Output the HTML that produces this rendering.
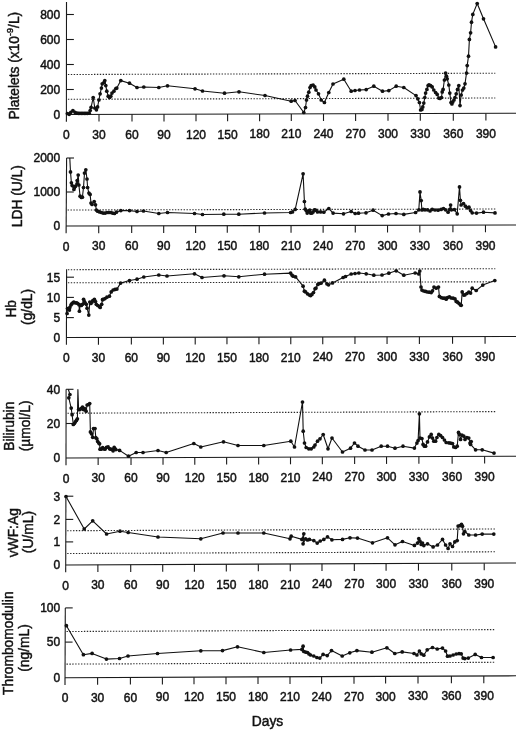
<!DOCTYPE html><html><head><meta charset="utf-8"><style>html,body{margin:0;padding:0;background:#fff;overflow:hidden}svg{display:block}</style></head><body><svg width="520" height="731" viewBox="0 0 520 731">
<rect width="520" height="731" fill="#fff"/>
<g>
<g stroke="#1a1a1a" stroke-width="1.1" fill="none"><path d="M66.50 2.00L66.40 121.70" /><path d="M66.40 114.50L516.00 113.30" /><path d="M99.00 114.41V121.61" /><path d="M132.00 114.32V121.52" /><path d="M164.00 114.24V121.44" /><path d="M196.00 114.15V121.35" /><path d="M227.60 114.07V121.27" /><path d="M259.60 113.98V121.18" /><path d="M291.30 113.90V121.10" /><path d="M323.50 113.81V121.01" /><path d="M355.60 113.73V120.93" /><path d="M388.00 113.64V120.84" /><path d="M420.30 113.56V120.76" /><path d="M453.30 113.47V120.67" /><path d="M485.90 113.38V120.58" /><path d="M66.49 14.50H73.89" /><path d="M66.47 39.50H73.87" /><path d="M66.44 64.50H73.84" /><path d="M66.42 89.50H73.82" /></g>
<g stroke="#2a2a2a" stroke-width="1.1" stroke-dasharray="1.4 1.5" fill="none"><path d="M67.90 74.50L495.30 73.20" /><path d="M67.90 99.30L495.30 98.00" /></g>
<g font-family='"Liberation Sans", Arial, Helvetica, sans-serif' font-size="12" fill="#111" stroke="#111" stroke-width="0.45"><text x="66.40" y="139.00" text-anchor="middle">0</text><text x="99.00" y="138.91" text-anchor="middle">30</text><text x="132.00" y="138.82" text-anchor="middle">60</text><text x="164.00" y="138.74" text-anchor="middle">90</text><text x="196.00" y="138.65" text-anchor="middle">120</text><text x="227.60" y="138.57" text-anchor="middle">150</text><text x="259.60" y="138.48" text-anchor="middle">180</text><text x="291.30" y="138.40" text-anchor="middle">210</text><text x="323.50" y="138.31" text-anchor="middle">240</text><text x="355.60" y="138.23" text-anchor="middle">270</text><text x="388.00" y="138.14" text-anchor="middle">300</text><text x="420.30" y="138.06" text-anchor="middle">330</text><text x="453.30" y="137.97" text-anchor="middle">360</text><text x="485.90" y="137.88" text-anchor="middle">390</text><text x="60.2" y="18.80" text-anchor="end">800</text><text x="60.2" y="43.80" text-anchor="end">600</text><text x="60.2" y="68.80" text-anchor="end">400</text><text x="60.2" y="93.80" text-anchor="end">200</text><text x="60.2" y="118.80" text-anchor="end">0</text></g>
<g font-family='"Liberation Sans", Arial, Helvetica, sans-serif' font-size="13.8" fill="#111" stroke="#111" stroke-width="0.45"><text transform="translate(18.80 65.70) rotate(-90)" text-anchor="middle">Platelets (x10<tspan dy="-5.5" font-size="9">-9</tspan><tspan dy="5.5">/L)</tspan></text></g>
<polyline fill="none" stroke="#111" stroke-width="1.1" stroke-linejoin="round" points="67.4,113.5 69.2,114.3 70.8,112.3 72.9,110.5 75.0,112.3 76.9,113.2 78.4,113.3 79.9,113.3 81.4,113.3 82.9,113.3 84.4,113.3 85.9,113.3 87.4,113.3 89.2,113.2 90.2,110.5 91.1,107.4 93.2,97.5 94.8,108.0 96.4,109.8 97.6,106.9 98.9,100.0 100.1,93.8 101.4,88.1 102.2,83.8 103.9,82.5 104.8,80.6 105.8,85.6 106.8,91.2 108.2,96.2 109.5,97.5 110.8,96.2 112.0,93.1 113.9,91.2 115.8,88.5 116.8,88.1 120.8,80.6 129.5,83.2 137.0,87.5 143.8,87.0 158.8,87.5 167.5,85.8 195.0,88.8 202.5,91.0 224.5,93.2 239.0,91.8 265.0,95.5 291.2,101.2 295.0,100.5 303.8,112.5 305.5,107.5 306.5,100.0 307.5,96.2 308.8,92.2 310.0,87.5 311.2,85.6 313.1,85.0 314.8,86.9 316.0,90.0 318.5,93.8 321.2,100.0 324.4,102.5 328.8,92.5 333.0,84.0 343.8,79.2 351.2,91.2 355.0,90.5 359.5,90.0 366.2,89.6 373.8,86.2 382.5,91.2 388.8,90.6 396.2,86.2 403.8,87.5 416.0,95.6 417.8,98.8 419.4,102.5 420.6,110.0 421.9,109.4 422.8,106.9 423.8,103.1 424.8,97.5 425.6,93.1 426.9,89.4 428.1,85.6 429.0,84.8 430.6,85.6 432.2,86.9 433.8,90.0 435.6,92.5 437.2,94.4 438.8,98.1 440.0,98.5 441.5,97.5 442.2,91.9 443.1,89.4 444.4,80.0 445.6,73.1 446.5,76.2 447.2,78.8 448.8,85.0 449.8,93.1 451.0,102.5 451.9,104.0 452.8,101.9 454.0,100.0 455.0,97.5 456.2,93.8 457.5,89.4 458.8,85.6 460.0,105.6 461.2,95.0 462.5,90.0 463.8,88.1 465.0,83.8 466.5,73.1 467.2,65.6 468.5,56.2 469.4,39.4 470.6,32.8 471.5,22.2 472.8,14.4 477.2,3.5 483.5,18.8 495.6,46.9"/>
<g fill="#111"><circle cx="67.4" cy="113.5" r="1.85"/><circle cx="69.2" cy="114.3" r="1.85"/><circle cx="70.8" cy="112.3" r="1.85"/><circle cx="72.9" cy="110.5" r="1.85"/><circle cx="75.0" cy="112.3" r="1.85"/><circle cx="76.9" cy="113.2" r="1.85"/><circle cx="78.4" cy="113.3" r="1.85"/><circle cx="79.9" cy="113.3" r="1.85"/><circle cx="81.4" cy="113.3" r="1.85"/><circle cx="82.9" cy="113.3" r="1.85"/><circle cx="84.4" cy="113.3" r="1.85"/><circle cx="85.9" cy="113.3" r="1.85"/><circle cx="87.4" cy="113.3" r="1.85"/><circle cx="89.2" cy="113.2" r="1.85"/><circle cx="90.2" cy="110.5" r="1.85"/><circle cx="91.1" cy="107.4" r="1.85"/><circle cx="93.2" cy="97.5" r="1.85"/><circle cx="94.8" cy="108.0" r="1.85"/><circle cx="96.4" cy="109.8" r="1.85"/><circle cx="97.6" cy="106.9" r="1.85"/><circle cx="98.9" cy="100.0" r="1.85"/><circle cx="100.1" cy="93.8" r="1.85"/><circle cx="101.4" cy="88.1" r="1.85"/><circle cx="102.2" cy="83.8" r="1.85"/><circle cx="103.9" cy="82.5" r="1.85"/><circle cx="104.8" cy="80.6" r="1.85"/><circle cx="105.8" cy="85.6" r="1.85"/><circle cx="106.8" cy="91.2" r="1.85"/><circle cx="108.2" cy="96.2" r="1.85"/><circle cx="109.5" cy="97.5" r="1.85"/><circle cx="110.8" cy="96.2" r="1.85"/><circle cx="112.0" cy="93.1" r="1.85"/><circle cx="113.9" cy="91.2" r="1.85"/><circle cx="115.8" cy="88.5" r="1.85"/><circle cx="116.8" cy="88.1" r="1.85"/><circle cx="120.8" cy="80.6" r="1.85"/><circle cx="129.5" cy="83.2" r="1.85"/><circle cx="137.0" cy="87.5" r="1.85"/><circle cx="143.8" cy="87.0" r="1.85"/><circle cx="158.8" cy="87.5" r="1.85"/><circle cx="167.5" cy="85.8" r="1.85"/><circle cx="195.0" cy="88.8" r="1.85"/><circle cx="202.5" cy="91.0" r="1.85"/><circle cx="224.5" cy="93.2" r="1.85"/><circle cx="239.0" cy="91.8" r="1.85"/><circle cx="265.0" cy="95.5" r="1.85"/><circle cx="291.2" cy="101.2" r="1.85"/><circle cx="295.0" cy="100.5" r="1.85"/><circle cx="303.8" cy="112.5" r="1.85"/><circle cx="305.5" cy="107.5" r="1.85"/><circle cx="306.5" cy="100.0" r="1.85"/><circle cx="307.5" cy="96.2" r="1.85"/><circle cx="308.8" cy="92.2" r="1.85"/><circle cx="310.0" cy="87.5" r="1.85"/><circle cx="311.2" cy="85.6" r="1.85"/><circle cx="313.1" cy="85.0" r="1.85"/><circle cx="314.8" cy="86.9" r="1.85"/><circle cx="316.0" cy="90.0" r="1.85"/><circle cx="318.5" cy="93.8" r="1.85"/><circle cx="321.2" cy="100.0" r="1.85"/><circle cx="324.4" cy="102.5" r="1.85"/><circle cx="328.8" cy="92.5" r="1.85"/><circle cx="333.0" cy="84.0" r="1.85"/><circle cx="343.8" cy="79.2" r="1.85"/><circle cx="351.2" cy="91.2" r="1.85"/><circle cx="355.0" cy="90.5" r="1.85"/><circle cx="359.5" cy="90.0" r="1.85"/><circle cx="366.2" cy="89.6" r="1.85"/><circle cx="373.8" cy="86.2" r="1.85"/><circle cx="382.5" cy="91.2" r="1.85"/><circle cx="388.8" cy="90.6" r="1.85"/><circle cx="396.2" cy="86.2" r="1.85"/><circle cx="403.8" cy="87.5" r="1.85"/><circle cx="416.0" cy="95.6" r="1.85"/><circle cx="417.8" cy="98.8" r="1.85"/><circle cx="419.4" cy="102.5" r="1.85"/><circle cx="420.6" cy="110.0" r="1.85"/><circle cx="421.9" cy="109.4" r="1.85"/><circle cx="422.8" cy="106.9" r="1.85"/><circle cx="423.8" cy="103.1" r="1.85"/><circle cx="424.8" cy="97.5" r="1.85"/><circle cx="425.6" cy="93.1" r="1.85"/><circle cx="426.9" cy="89.4" r="1.85"/><circle cx="428.1" cy="85.6" r="1.85"/><circle cx="429.0" cy="84.8" r="1.85"/><circle cx="430.6" cy="85.6" r="1.85"/><circle cx="432.2" cy="86.9" r="1.85"/><circle cx="433.8" cy="90.0" r="1.85"/><circle cx="435.6" cy="92.5" r="1.85"/><circle cx="437.2" cy="94.4" r="1.85"/><circle cx="438.8" cy="98.1" r="1.85"/><circle cx="440.0" cy="98.5" r="1.85"/><circle cx="441.5" cy="97.5" r="1.85"/><circle cx="442.2" cy="91.9" r="1.85"/><circle cx="443.1" cy="89.4" r="1.85"/><circle cx="444.4" cy="80.0" r="1.85"/><circle cx="445.6" cy="73.1" r="1.85"/><circle cx="446.5" cy="76.2" r="1.85"/><circle cx="447.2" cy="78.8" r="1.85"/><circle cx="448.8" cy="85.0" r="1.85"/><circle cx="449.8" cy="93.1" r="1.85"/><circle cx="451.0" cy="102.5" r="1.85"/><circle cx="451.9" cy="104.0" r="1.85"/><circle cx="452.8" cy="101.9" r="1.85"/><circle cx="454.0" cy="100.0" r="1.85"/><circle cx="455.0" cy="97.5" r="1.85"/><circle cx="456.2" cy="93.8" r="1.85"/><circle cx="457.5" cy="89.4" r="1.85"/><circle cx="458.8" cy="85.6" r="1.85"/><circle cx="460.0" cy="105.6" r="1.85"/><circle cx="461.2" cy="95.0" r="1.85"/><circle cx="462.5" cy="90.0" r="1.85"/><circle cx="463.8" cy="88.1" r="1.85"/><circle cx="465.0" cy="83.8" r="1.85"/><circle cx="466.5" cy="73.1" r="1.85"/><circle cx="467.2" cy="65.6" r="1.85"/><circle cx="468.5" cy="56.2" r="1.85"/><circle cx="469.4" cy="39.4" r="1.85"/><circle cx="470.6" cy="32.8" r="1.85"/><circle cx="471.5" cy="22.2" r="1.85"/><circle cx="472.8" cy="14.4" r="1.85"/><circle cx="477.2" cy="3.5" r="1.85"/><circle cx="483.5" cy="18.8" r="1.85"/><circle cx="495.6" cy="46.9" r="1.85"/></g>
<g stroke="#1a1a1a" stroke-width="1.1" fill="none"><path d="M66.60 158.00L66.10 233.20" /><path d="M66.10 226.00L516.00 225.00" /><path d="M98.72 225.93V233.13" /><path d="M131.68 225.85V233.05" /><path d="M163.68 225.78V232.98" /><path d="M195.60 225.71V232.91" /><path d="M227.28 225.64V232.84" /><path d="M259.28 225.57V232.77" /><path d="M291.04 225.50V232.70" /><path d="M323.12 225.43V232.63" /><path d="M355.28 225.36V232.56" /><path d="M387.52 225.29V232.49" /><path d="M419.84 225.21V232.41" /><path d="M452.92 225.14V232.34" /><path d="M485.48 225.07V232.27" /><path d="M66.60 158.00H74.00" /><path d="M66.35 192.00H73.75" /></g>
<g stroke="#2a2a2a" stroke-width="1.1" stroke-dasharray="1.4 1.5" fill="none"><path d="M67.60 210.00L495.30 209.00" /></g>
<g font-family='"Liberation Sans", Arial, Helvetica, sans-serif' font-size="12" fill="#111" stroke="#111" stroke-width="0.45"><text x="66.10" y="250.50" text-anchor="middle">0</text><text x="98.72" y="250.43" text-anchor="middle">30</text><text x="131.68" y="250.35" text-anchor="middle">60</text><text x="163.68" y="250.28" text-anchor="middle">90</text><text x="195.60" y="250.21" text-anchor="middle">120</text><text x="227.28" y="250.14" text-anchor="middle">150</text><text x="259.28" y="250.07" text-anchor="middle">180</text><text x="291.04" y="250.00" text-anchor="middle">210</text><text x="323.12" y="249.93" text-anchor="middle">240</text><text x="355.28" y="249.86" text-anchor="middle">270</text><text x="387.52" y="249.79" text-anchor="middle">300</text><text x="419.84" y="249.71" text-anchor="middle">330</text><text x="452.92" y="249.64" text-anchor="middle">360</text><text x="485.48" y="249.57" text-anchor="middle">390</text><text x="60.2" y="162.30" text-anchor="end">2000</text><text x="60.2" y="196.30" text-anchor="end">1000</text><text x="60.2" y="230.30" text-anchor="end">0</text></g>
<g font-family='"Liberation Sans", Arial, Helvetica, sans-serif' font-size="13.8" fill="#111" stroke="#111" stroke-width="0.45"><text transform="translate(22.30 196.20) rotate(-90)" text-anchor="middle">LDH (U/L)</text></g>
<polyline fill="none" stroke="#111" stroke-width="1.1" stroke-linejoin="round" points="69.8,158.0 70.5,171.9 71.4,182.8 72.2,185.6 73.9,189.4 74.5,187.5 75.5,186.2 77.0,183.8 77.2,180.6 78.2,175.0 78.9,185.0 80.1,196.2 81.4,197.5 82.4,197.2 83.5,187.5 84.5,173.1 85.8,169.8 87.0,179.0 87.6,187.5 88.9,193.1 90.1,194.4 91.0,203.1 92.0,204.4 94.2,201.5 95.5,204.8 96.4,210.0 97.6,211.2 99.5,211.9 101.4,212.5 103.2,213.1 105.1,213.1 107.0,212.5 108.9,212.5 110.8,212.5 112.6,213.1 114.5,213.5 116.4,212.2 120.8,210.6 129.5,210.6 137.0,211.5 143.5,211.0 158.8,213.5 167.5,212.5 194.5,213.5 202.5,214.5 223.8,214.2 238.8,214.2 264.5,213.0 290.6,212.5 292.5,211.9 295.2,209.4 303.1,173.8 304.4,201.5 305.2,209.0 306.2,210.6 307.2,213.1 308.5,211.2 309.8,210.0 310.6,213.1 311.9,213.1 313.1,211.9 314.4,209.8 315.6,210.2 317.5,211.9 320.6,211.9 323.8,212.2 328.8,208.5 333.1,213.1 343.5,213.8 351.2,211.5 355.2,213.5 358.5,213.2 366.0,212.8 373.1,210.2 382.2,215.6 388.5,214.0 396.0,213.5 403.8,214.4 415.6,212.5 418.8,209.8 420.0,191.9 421.2,200.6 421.9,210.0 423.1,209.4 425.0,209.8 427.5,209.8 430.0,211.0 432.2,209.4 435.0,210.0 438.1,210.2 441.2,209.4 443.5,208.5 445.6,209.8 448.1,212.2 449.8,209.4 450.6,205.0 451.5,209.8 454.4,209.6 457.2,213.8 459.5,186.9 460.4,200.3 461.1,205.0 463.5,203.6 465.4,206.2 467.2,207.8 469.0,207.2 470.6,210.6 472.2,212.8 476.5,213.1 483.5,212.2 495.0,212.9"/>
<g fill="#111"><circle cx="70.5" cy="171.9" r="1.85"/><circle cx="71.4" cy="182.8" r="1.85"/><circle cx="72.2" cy="185.6" r="1.85"/><circle cx="73.9" cy="189.4" r="1.85"/><circle cx="74.5" cy="187.5" r="1.85"/><circle cx="75.5" cy="186.2" r="1.85"/><circle cx="77.0" cy="183.8" r="1.85"/><circle cx="77.2" cy="180.6" r="1.85"/><circle cx="78.2" cy="175.0" r="1.85"/><circle cx="78.9" cy="185.0" r="1.85"/><circle cx="80.1" cy="196.2" r="1.85"/><circle cx="81.4" cy="197.5" r="1.85"/><circle cx="82.4" cy="197.2" r="1.85"/><circle cx="83.5" cy="187.5" r="1.85"/><circle cx="84.5" cy="173.1" r="1.85"/><circle cx="85.8" cy="169.8" r="1.85"/><circle cx="87.0" cy="179.0" r="1.85"/><circle cx="87.6" cy="187.5" r="1.85"/><circle cx="88.9" cy="193.1" r="1.85"/><circle cx="90.1" cy="194.4" r="1.85"/><circle cx="91.0" cy="203.1" r="1.85"/><circle cx="92.0" cy="204.4" r="1.85"/><circle cx="94.2" cy="201.5" r="1.85"/><circle cx="95.5" cy="204.8" r="1.85"/><circle cx="96.4" cy="210.0" r="1.85"/><circle cx="97.6" cy="211.2" r="1.85"/><circle cx="99.5" cy="211.9" r="1.85"/><circle cx="101.4" cy="212.5" r="1.85"/><circle cx="103.2" cy="213.1" r="1.85"/><circle cx="105.1" cy="213.1" r="1.85"/><circle cx="107.0" cy="212.5" r="1.85"/><circle cx="108.9" cy="212.5" r="1.85"/><circle cx="110.8" cy="212.5" r="1.85"/><circle cx="112.6" cy="213.1" r="1.85"/><circle cx="114.5" cy="213.5" r="1.85"/><circle cx="116.4" cy="212.2" r="1.85"/><circle cx="120.8" cy="210.6" r="1.85"/><circle cx="129.5" cy="210.6" r="1.85"/><circle cx="137.0" cy="211.5" r="1.85"/><circle cx="143.5" cy="211.0" r="1.85"/><circle cx="158.8" cy="213.5" r="1.85"/><circle cx="167.5" cy="212.5" r="1.85"/><circle cx="194.5" cy="213.5" r="1.85"/><circle cx="202.5" cy="214.5" r="1.85"/><circle cx="223.8" cy="214.2" r="1.85"/><circle cx="238.8" cy="214.2" r="1.85"/><circle cx="264.5" cy="213.0" r="1.85"/><circle cx="290.6" cy="212.5" r="1.85"/><circle cx="292.5" cy="211.9" r="1.85"/><circle cx="295.2" cy="209.4" r="1.85"/><circle cx="303.1" cy="173.8" r="1.85"/><circle cx="304.4" cy="201.5" r="1.85"/><circle cx="305.2" cy="209.0" r="1.85"/><circle cx="306.2" cy="210.6" r="1.85"/><circle cx="307.2" cy="213.1" r="1.85"/><circle cx="308.5" cy="211.2" r="1.85"/><circle cx="309.8" cy="210.0" r="1.85"/><circle cx="310.6" cy="213.1" r="1.85"/><circle cx="311.9" cy="213.1" r="1.85"/><circle cx="313.1" cy="211.9" r="1.85"/><circle cx="314.4" cy="209.8" r="1.85"/><circle cx="315.6" cy="210.2" r="1.85"/><circle cx="317.5" cy="211.9" r="1.85"/><circle cx="320.6" cy="211.9" r="1.85"/><circle cx="323.8" cy="212.2" r="1.85"/><circle cx="328.8" cy="208.5" r="1.85"/><circle cx="333.1" cy="213.1" r="1.85"/><circle cx="343.5" cy="213.8" r="1.85"/><circle cx="351.2" cy="211.5" r="1.85"/><circle cx="355.2" cy="213.5" r="1.85"/><circle cx="358.5" cy="213.2" r="1.85"/><circle cx="366.0" cy="212.8" r="1.85"/><circle cx="373.1" cy="210.2" r="1.85"/><circle cx="382.2" cy="215.6" r="1.85"/><circle cx="388.5" cy="214.0" r="1.85"/><circle cx="396.0" cy="213.5" r="1.85"/><circle cx="403.8" cy="214.4" r="1.85"/><circle cx="415.6" cy="212.5" r="1.85"/><circle cx="418.8" cy="209.8" r="1.85"/><circle cx="420.0" cy="191.9" r="1.85"/><circle cx="421.2" cy="200.6" r="1.85"/><circle cx="421.9" cy="210.0" r="1.85"/><circle cx="423.1" cy="209.4" r="1.85"/><circle cx="425.0" cy="209.8" r="1.85"/><circle cx="427.5" cy="209.8" r="1.85"/><circle cx="430.0" cy="211.0" r="1.85"/><circle cx="432.2" cy="209.4" r="1.85"/><circle cx="435.0" cy="210.0" r="1.85"/><circle cx="438.1" cy="210.2" r="1.85"/><circle cx="441.2" cy="209.4" r="1.85"/><circle cx="443.5" cy="208.5" r="1.85"/><circle cx="445.6" cy="209.8" r="1.85"/><circle cx="448.1" cy="212.2" r="1.85"/><circle cx="449.8" cy="209.4" r="1.85"/><circle cx="450.6" cy="205.0" r="1.85"/><circle cx="451.5" cy="209.8" r="1.85"/><circle cx="454.4" cy="209.6" r="1.85"/><circle cx="457.2" cy="213.8" r="1.85"/><circle cx="459.5" cy="186.9" r="1.85"/><circle cx="460.4" cy="200.3" r="1.85"/><circle cx="461.1" cy="205.0" r="1.85"/><circle cx="463.5" cy="203.6" r="1.85"/><circle cx="465.4" cy="206.2" r="1.85"/><circle cx="467.2" cy="207.8" r="1.85"/><circle cx="469.0" cy="207.2" r="1.85"/><circle cx="470.6" cy="210.6" r="1.85"/><circle cx="472.2" cy="212.8" r="1.85"/><circle cx="476.5" cy="213.1" r="1.85"/><circle cx="483.5" cy="212.2" r="1.85"/><circle cx="495.0" cy="212.9" r="1.85"/></g>
<g stroke="#1a1a1a" stroke-width="1.1" fill="none"><path d="M66.60 269.30L66.40 344.70" /><path d="M66.40 337.50L516.00 336.50" /><path d="M98.44 337.43V344.63" /><path d="M131.36 337.36V344.56" /><path d="M163.36 337.28V344.48" /><path d="M195.21 337.21V344.41" /><path d="M226.96 337.14V344.34" /><path d="M258.96 337.07V344.27" /><path d="M290.78 337.00V344.20" /><path d="M322.75 336.93V344.13" /><path d="M354.96 336.86V344.06" /><path d="M387.05 336.79V343.99" /><path d="M419.39 336.71V343.91" /><path d="M452.55 336.64V343.84" /><path d="M485.07 336.57V343.77" /><path d="M66.58 277.20H73.98" /><path d="M66.52 297.40H73.92" /><path d="M66.46 317.60H73.86" /></g>
<g stroke="#2a2a2a" stroke-width="1.1" stroke-dasharray="1.4 1.5" fill="none"><path d="M67.90 269.70L495.30 268.70" /><path d="M67.90 282.80L495.30 281.80" /></g>
<g font-family='"Liberation Sans", Arial, Helvetica, sans-serif' font-size="12" fill="#111" stroke="#111" stroke-width="0.45"><text x="66.40" y="362.00" text-anchor="middle">0</text><text x="98.44" y="361.93" text-anchor="middle">30</text><text x="131.36" y="361.86" text-anchor="middle">60</text><text x="163.36" y="361.78" text-anchor="middle">90</text><text x="195.21" y="361.71" text-anchor="middle">120</text><text x="226.96" y="361.64" text-anchor="middle">150</text><text x="258.96" y="361.57" text-anchor="middle">180</text><text x="290.78" y="361.50" text-anchor="middle">210</text><text x="322.75" y="361.43" text-anchor="middle">240</text><text x="354.96" y="361.36" text-anchor="middle">270</text><text x="387.05" y="361.29" text-anchor="middle">300</text><text x="419.39" y="361.21" text-anchor="middle">330</text><text x="452.55" y="361.14" text-anchor="middle">360</text><text x="485.07" y="361.07" text-anchor="middle">390</text><text x="60.2" y="281.50" text-anchor="end">15</text><text x="60.2" y="301.70" text-anchor="end">10</text><text x="60.2" y="321.90" text-anchor="end">5</text><text x="60.2" y="341.80" text-anchor="end">0</text></g>
<g font-family='"Liberation Sans", Arial, Helvetica, sans-serif' font-size="13.8" fill="#111" stroke="#111" stroke-width="0.45"><text transform="translate(16.40 308.80) rotate(-90)" text-anchor="middle">Hb</text><text transform="translate(32.00 306.90) rotate(-90)" text-anchor="middle">(g/dL)</text></g>
<polyline fill="none" stroke="#111" stroke-width="1.1" stroke-linejoin="round" points="67.1,313.5 67.5,308.5 69.4,310.1 69.8,307.4 70.9,305.1 71.7,303.9 72.8,302.8 73.8,302.0 75.2,302.8 76.7,302.8 77.8,303.5 79.0,304.7 79.4,311.2 80.2,305.1 81.3,305.5 82.5,304.3 83.6,299.3 84.4,301.6 85.2,303.2 86.3,304.3 87.1,308.2 88.8,315.1 89.8,302.0 90.9,303.5 92.1,302.0 92.8,300.5 94.4,299.3 95.5,301.6 96.3,304.3 97.8,305.5 99.4,306.6 100.2,307.4 101.7,304.3 102.5,299.7 103.1,299.4 105.0,298.6 106.9,297.2 109.4,296.2 111.2,291.9 113.1,290.0 115.0,289.4 116.9,289.1 120.6,283.1 129.5,280.5 137.0,279.2 143.8,277.0 158.8,275.0 167.0,276.0 194.5,273.8 202.0,277.5 224.0,275.8 238.8,276.8 264.5,274.2 290.6,273.1 291.9,275.0 293.1,276.2 295.6,276.9 303.1,286.2 304.4,291.2 305.6,291.9 307.5,293.8 309.4,295.0 310.6,295.6 311.9,294.4 313.5,292.5 315.0,288.8 316.0,288.1 317.8,284.4 319.4,283.5 321.2,283.1 324.4,280.2 326.9,283.8 328.5,284.8 332.5,282.9 343.1,277.5 345.5,276.5 351.2,274.0 355.0,273.5 358.8,273.0 366.2,273.8 373.8,275.2 382.0,275.0 388.8,273.2 396.2,270.8 403.8,275.2 415.2,273.0 418.8,273.9 419.8,271.0 421.0,287.0 421.9,290.1 423.8,291.0 425.6,291.4 427.5,292.0 429.4,292.2 431.2,292.6 432.5,290.8 434.0,287.0 436.2,288.2 438.5,287.0 439.4,296.4 441.2,297.6 443.1,298.2 445.0,298.2 446.2,299.2 447.5,297.6 449.4,296.8 451.2,298.0 453.1,298.2 455.0,298.9 456.2,301.4 457.6,302.2 459.1,303.6 460.6,305.0 461.2,305.3 462.2,291.9 463.8,295.1 465.0,294.8 466.9,293.5 468.8,292.0 470.6,293.1 472.2,288.2 476.2,290.5 482.8,285.1 494.8,280.5"/>
<g fill="#111"><circle cx="67.1" cy="313.5" r="1.85"/><circle cx="67.5" cy="308.5" r="1.85"/><circle cx="69.4" cy="310.1" r="1.85"/><circle cx="69.8" cy="307.4" r="1.85"/><circle cx="70.9" cy="305.1" r="1.85"/><circle cx="71.7" cy="303.9" r="1.85"/><circle cx="72.8" cy="302.8" r="1.85"/><circle cx="73.8" cy="302.0" r="1.85"/><circle cx="75.2" cy="302.8" r="1.85"/><circle cx="76.7" cy="302.8" r="1.85"/><circle cx="77.8" cy="303.5" r="1.85"/><circle cx="79.0" cy="304.7" r="1.85"/><circle cx="79.4" cy="311.2" r="1.85"/><circle cx="80.2" cy="305.1" r="1.85"/><circle cx="81.3" cy="305.5" r="1.85"/><circle cx="82.5" cy="304.3" r="1.85"/><circle cx="83.6" cy="299.3" r="1.85"/><circle cx="84.4" cy="301.6" r="1.85"/><circle cx="85.2" cy="303.2" r="1.85"/><circle cx="86.3" cy="304.3" r="1.85"/><circle cx="87.1" cy="308.2" r="1.85"/><circle cx="88.8" cy="315.1" r="1.85"/><circle cx="89.8" cy="302.0" r="1.85"/><circle cx="90.9" cy="303.5" r="1.85"/><circle cx="92.1" cy="302.0" r="1.85"/><circle cx="92.8" cy="300.5" r="1.85"/><circle cx="94.4" cy="299.3" r="1.85"/><circle cx="95.5" cy="301.6" r="1.85"/><circle cx="96.3" cy="304.3" r="1.85"/><circle cx="97.8" cy="305.5" r="1.85"/><circle cx="99.4" cy="306.6" r="1.85"/><circle cx="100.2" cy="307.4" r="1.85"/><circle cx="101.7" cy="304.3" r="1.85"/><circle cx="102.5" cy="299.7" r="1.85"/><circle cx="103.1" cy="299.4" r="1.85"/><circle cx="105.0" cy="298.6" r="1.85"/><circle cx="106.9" cy="297.2" r="1.85"/><circle cx="109.4" cy="296.2" r="1.85"/><circle cx="111.2" cy="291.9" r="1.85"/><circle cx="113.1" cy="290.0" r="1.85"/><circle cx="115.0" cy="289.4" r="1.85"/><circle cx="116.9" cy="289.1" r="1.85"/><circle cx="120.6" cy="283.1" r="1.85"/><circle cx="129.5" cy="280.5" r="1.85"/><circle cx="137.0" cy="279.2" r="1.85"/><circle cx="143.8" cy="277.0" r="1.85"/><circle cx="158.8" cy="275.0" r="1.85"/><circle cx="167.0" cy="276.0" r="1.85"/><circle cx="194.5" cy="273.8" r="1.85"/><circle cx="202.0" cy="277.5" r="1.85"/><circle cx="224.0" cy="275.8" r="1.85"/><circle cx="238.8" cy="276.8" r="1.85"/><circle cx="264.5" cy="274.2" r="1.85"/><circle cx="290.6" cy="273.1" r="1.85"/><circle cx="291.9" cy="275.0" r="1.85"/><circle cx="293.1" cy="276.2" r="1.85"/><circle cx="295.6" cy="276.9" r="1.85"/><circle cx="303.1" cy="286.2" r="1.85"/><circle cx="304.4" cy="291.2" r="1.85"/><circle cx="305.6" cy="291.9" r="1.85"/><circle cx="307.5" cy="293.8" r="1.85"/><circle cx="309.4" cy="295.0" r="1.85"/><circle cx="310.6" cy="295.6" r="1.85"/><circle cx="311.9" cy="294.4" r="1.85"/><circle cx="313.5" cy="292.5" r="1.85"/><circle cx="315.0" cy="288.8" r="1.85"/><circle cx="316.0" cy="288.1" r="1.85"/><circle cx="317.8" cy="284.4" r="1.85"/><circle cx="319.4" cy="283.5" r="1.85"/><circle cx="321.2" cy="283.1" r="1.85"/><circle cx="324.4" cy="280.2" r="1.85"/><circle cx="326.9" cy="283.8" r="1.85"/><circle cx="328.5" cy="284.8" r="1.85"/><circle cx="332.5" cy="282.9" r="1.85"/><circle cx="343.1" cy="277.5" r="1.85"/><circle cx="345.5" cy="276.5" r="1.85"/><circle cx="351.2" cy="274.0" r="1.85"/><circle cx="355.0" cy="273.5" r="1.85"/><circle cx="358.8" cy="273.0" r="1.85"/><circle cx="366.2" cy="273.8" r="1.85"/><circle cx="373.8" cy="275.2" r="1.85"/><circle cx="382.0" cy="275.0" r="1.85"/><circle cx="388.8" cy="273.2" r="1.85"/><circle cx="396.2" cy="270.8" r="1.85"/><circle cx="403.8" cy="275.2" r="1.85"/><circle cx="415.2" cy="273.0" r="1.85"/><circle cx="418.8" cy="273.9" r="1.85"/><circle cx="419.8" cy="271.0" r="1.85"/><circle cx="421.0" cy="287.0" r="1.85"/><circle cx="421.9" cy="290.1" r="1.85"/><circle cx="423.8" cy="291.0" r="1.85"/><circle cx="425.6" cy="291.4" r="1.85"/><circle cx="427.5" cy="292.0" r="1.85"/><circle cx="429.4" cy="292.2" r="1.85"/><circle cx="431.2" cy="292.6" r="1.85"/><circle cx="432.5" cy="290.8" r="1.85"/><circle cx="434.0" cy="287.0" r="1.85"/><circle cx="436.2" cy="288.2" r="1.85"/><circle cx="438.5" cy="287.0" r="1.85"/><circle cx="439.4" cy="296.4" r="1.85"/><circle cx="441.2" cy="297.6" r="1.85"/><circle cx="443.1" cy="298.2" r="1.85"/><circle cx="445.0" cy="298.2" r="1.85"/><circle cx="446.2" cy="299.2" r="1.85"/><circle cx="447.5" cy="297.6" r="1.85"/><circle cx="449.4" cy="296.8" r="1.85"/><circle cx="451.2" cy="298.0" r="1.85"/><circle cx="453.1" cy="298.2" r="1.85"/><circle cx="455.0" cy="298.9" r="1.85"/><circle cx="456.2" cy="301.4" r="1.85"/><circle cx="457.6" cy="302.2" r="1.85"/><circle cx="459.1" cy="303.6" r="1.85"/><circle cx="460.6" cy="305.0" r="1.85"/><circle cx="461.2" cy="305.3" r="1.85"/><circle cx="462.2" cy="291.9" r="1.85"/><circle cx="463.8" cy="295.1" r="1.85"/><circle cx="465.0" cy="294.8" r="1.85"/><circle cx="466.9" cy="293.5" r="1.85"/><circle cx="468.8" cy="292.0" r="1.85"/><circle cx="470.6" cy="293.1" r="1.85"/><circle cx="472.2" cy="288.2" r="1.85"/><circle cx="476.2" cy="290.5" r="1.85"/><circle cx="482.8" cy="285.1" r="1.85"/><circle cx="494.8" cy="280.5" r="1.85"/></g>
<g stroke="#1a1a1a" stroke-width="1.1" fill="none"><path d="M66.10 389.30L66.00 465.20" /><path d="M66.00 458.00L516.00 456.20" /><path d="M98.14 457.87V465.07" /><path d="M131.02 457.74V464.94" /><path d="M163.02 457.61V464.81" /><path d="M194.78 457.48V464.68" /><path d="M226.62 457.36V464.56" /><path d="M258.62 457.23V464.43" /><path d="M290.51 457.10V464.30" /><path d="M322.34 456.97V464.17" /><path d="M354.62 456.85V464.05" /><path d="M386.53 456.72V463.92" /><path d="M418.89 456.59V463.79" /><path d="M452.14 456.46V463.66" /><path d="M484.62 456.33V463.53" /><path d="M66.10 389.30H73.50" /><path d="M66.05 423.50H73.45" /></g>
<g stroke="#2a2a2a" stroke-width="1.1" stroke-dasharray="1.4 1.5" fill="none"><path d="M67.50 413.20L495.30 411.60" /></g>
<g font-family='"Liberation Sans", Arial, Helvetica, sans-serif' font-size="12" fill="#111" stroke="#111" stroke-width="0.45"><text x="66.00" y="482.50" text-anchor="middle">0</text><text x="98.14" y="482.37" text-anchor="middle">30</text><text x="131.02" y="482.24" text-anchor="middle">60</text><text x="163.02" y="482.11" text-anchor="middle">90</text><text x="194.78" y="481.98" text-anchor="middle">120</text><text x="226.62" y="481.86" text-anchor="middle">150</text><text x="258.62" y="481.73" text-anchor="middle">180</text><text x="290.51" y="481.60" text-anchor="middle">210</text><text x="322.34" y="481.47" text-anchor="middle">240</text><text x="354.62" y="481.35" text-anchor="middle">270</text><text x="386.53" y="481.22" text-anchor="middle">300</text><text x="418.89" y="481.09" text-anchor="middle">330</text><text x="452.14" y="480.96" text-anchor="middle">360</text><text x="484.62" y="480.83" text-anchor="middle">390</text><text x="60.2" y="393.60" text-anchor="end">40</text><text x="60.2" y="427.80" text-anchor="end">20</text><text x="60.2" y="462.30" text-anchor="end">0</text></g>
<g font-family='"Liberation Sans", Arial, Helvetica, sans-serif' font-size="13.8" fill="#111" stroke="#111" stroke-width="0.45"><text transform="translate(14.00 426.20) rotate(-90)" text-anchor="middle">Bilirubin</text><text transform="translate(29.50 425.90) rotate(-90)" text-anchor="middle">(µmol/L)</text></g>
<polyline fill="none" stroke="#111" stroke-width="1.1" stroke-linejoin="round" points="68.4,389.5 69.9,394.5 68.8,397.8 71.2,408.1 72.1,414.7 73.3,424.5 74.3,423.5 75.3,421.9 76.4,420.4 77.4,418.8 77.9,389.6 78.6,409.6 79.9,409.6 81.0,408.6 82.5,407.1 83.5,409.6 84.6,408.6 86.1,411.2 87.1,405.0 88.5,404.5 89.7,403.5 90.4,431.9 91.5,433.8 92.7,437.3 93.5,428.5 95.0,428.5 95.8,437.7 96.9,438.8 97.7,441.5 98.8,443.1 99.6,443.8 100.0,449.2 101.2,449.2 102.7,447.7 103.8,448.8 105.0,449.2 106.5,447.3 108.1,446.9 109.6,448.8 110.8,449.2 112.3,449.6 113.1,450.8 114.2,447.3 115.0,448.8 115.8,449.6 119.6,450.4 128.5,456.2 136.2,452.5 143.0,452.5 158.0,450.5 166.2,452.5 193.8,443.5 200.8,447.0 223.5,441.8 238.0,445.5 263.8,445.5 290.8,441.2 294.5,447.0 302.5,402.0 303.2,431.2 304.5,443.0 306.2,447.5 308.8,448.8 311.2,448.8 313.8,447.0 315.0,445.0 317.5,441.2 320.0,438.8 323.2,434.5 328.0,448.8 332.0,438.0 342.5,452.0 350.5,448.2 354.5,443.0 358.0,446.2 365.0,450.0 372.0,450.0 381.2,446.2 387.5,446.2 395.0,448.2 403.0,446.2 414.4,448.1 416.9,443.1 418.1,440.6 419.4,413.8 420.0,438.1 421.9,438.5 423.1,444.4 424.4,446.2 425.6,446.2 427.5,441.9 429.4,436.9 431.2,434.4 432.5,438.1 433.8,441.2 435.6,441.2 436.9,437.5 438.8,434.4 440.6,435.6 442.5,437.5 444.4,440.0 446.2,442.5 448.8,442.8 450.6,443.1 452.5,443.6 453.8,446.9 455.6,447.5 457.2,446.2 458.5,432.4 459.4,434.4 460.6,439.4 461.9,435.0 463.8,436.2 465.0,439.4 466.9,437.5 468.8,438.1 470.0,443.1 471.2,441.5 470.6,444.4 475.6,449.8 482.2,449.8 494.0,453.1"/>
<g fill="#111"><circle cx="69.9" cy="394.5" r="1.85"/><circle cx="68.8" cy="397.8" r="1.85"/><circle cx="71.2" cy="408.1" r="1.85"/><circle cx="72.1" cy="414.7" r="1.85"/><circle cx="73.3" cy="424.5" r="1.85"/><circle cx="74.3" cy="423.5" r="1.85"/><circle cx="75.3" cy="421.9" r="1.85"/><circle cx="76.4" cy="420.4" r="1.85"/><circle cx="77.4" cy="418.8" r="1.85"/><circle cx="78.6" cy="409.6" r="1.85"/><circle cx="79.9" cy="409.6" r="1.85"/><circle cx="81.0" cy="408.6" r="1.85"/><circle cx="82.5" cy="407.1" r="1.85"/><circle cx="83.5" cy="409.6" r="1.85"/><circle cx="84.6" cy="408.6" r="1.85"/><circle cx="86.1" cy="411.2" r="1.85"/><circle cx="87.1" cy="405.0" r="1.85"/><circle cx="88.5" cy="404.5" r="1.85"/><circle cx="89.7" cy="403.5" r="1.85"/><circle cx="90.4" cy="431.9" r="1.85"/><circle cx="91.5" cy="433.8" r="1.85"/><circle cx="92.7" cy="437.3" r="1.85"/><circle cx="93.5" cy="428.5" r="1.85"/><circle cx="95.0" cy="428.5" r="1.85"/><circle cx="95.8" cy="437.7" r="1.85"/><circle cx="96.9" cy="438.8" r="1.85"/><circle cx="97.7" cy="441.5" r="1.85"/><circle cx="98.8" cy="443.1" r="1.85"/><circle cx="99.6" cy="443.8" r="1.85"/><circle cx="100.0" cy="449.2" r="1.85"/><circle cx="101.2" cy="449.2" r="1.85"/><circle cx="102.7" cy="447.7" r="1.85"/><circle cx="103.8" cy="448.8" r="1.85"/><circle cx="105.0" cy="449.2" r="1.85"/><circle cx="106.5" cy="447.3" r="1.85"/><circle cx="108.1" cy="446.9" r="1.85"/><circle cx="109.6" cy="448.8" r="1.85"/><circle cx="110.8" cy="449.2" r="1.85"/><circle cx="112.3" cy="449.6" r="1.85"/><circle cx="113.1" cy="450.8" r="1.85"/><circle cx="114.2" cy="447.3" r="1.85"/><circle cx="115.0" cy="448.8" r="1.85"/><circle cx="115.8" cy="449.6" r="1.85"/><circle cx="119.6" cy="450.4" r="1.85"/><circle cx="128.5" cy="456.2" r="1.85"/><circle cx="136.2" cy="452.5" r="1.85"/><circle cx="143.0" cy="452.5" r="1.85"/><circle cx="158.0" cy="450.5" r="1.85"/><circle cx="166.2" cy="452.5" r="1.85"/><circle cx="193.8" cy="443.5" r="1.85"/><circle cx="200.8" cy="447.0" r="1.85"/><circle cx="223.5" cy="441.8" r="1.85"/><circle cx="238.0" cy="445.5" r="1.85"/><circle cx="263.8" cy="445.5" r="1.85"/><circle cx="290.8" cy="441.2" r="1.85"/><circle cx="294.5" cy="447.0" r="1.85"/><circle cx="302.5" cy="402.0" r="1.85"/><circle cx="303.2" cy="431.2" r="1.85"/><circle cx="304.5" cy="443.0" r="1.85"/><circle cx="306.2" cy="447.5" r="1.85"/><circle cx="308.8" cy="448.8" r="1.85"/><circle cx="311.2" cy="448.8" r="1.85"/><circle cx="313.8" cy="447.0" r="1.85"/><circle cx="315.0" cy="445.0" r="1.85"/><circle cx="317.5" cy="441.2" r="1.85"/><circle cx="320.0" cy="438.8" r="1.85"/><circle cx="323.2" cy="434.5" r="1.85"/><circle cx="328.0" cy="448.8" r="1.85"/><circle cx="332.0" cy="438.0" r="1.85"/><circle cx="342.5" cy="452.0" r="1.85"/><circle cx="350.5" cy="448.2" r="1.85"/><circle cx="354.5" cy="443.0" r="1.85"/><circle cx="358.0" cy="446.2" r="1.85"/><circle cx="365.0" cy="450.0" r="1.85"/><circle cx="372.0" cy="450.0" r="1.85"/><circle cx="381.2" cy="446.2" r="1.85"/><circle cx="387.5" cy="446.2" r="1.85"/><circle cx="395.0" cy="448.2" r="1.85"/><circle cx="403.0" cy="446.2" r="1.85"/><circle cx="414.4" cy="448.1" r="1.85"/><circle cx="416.9" cy="443.1" r="1.85"/><circle cx="418.1" cy="440.6" r="1.85"/><circle cx="419.4" cy="413.8" r="1.85"/><circle cx="420.0" cy="438.1" r="1.85"/><circle cx="421.9" cy="438.5" r="1.85"/><circle cx="423.1" cy="444.4" r="1.85"/><circle cx="424.4" cy="446.2" r="1.85"/><circle cx="425.6" cy="446.2" r="1.85"/><circle cx="427.5" cy="441.9" r="1.85"/><circle cx="429.4" cy="436.9" r="1.85"/><circle cx="431.2" cy="434.4" r="1.85"/><circle cx="432.5" cy="438.1" r="1.85"/><circle cx="433.8" cy="441.2" r="1.85"/><circle cx="435.6" cy="441.2" r="1.85"/><circle cx="436.9" cy="437.5" r="1.85"/><circle cx="438.8" cy="434.4" r="1.85"/><circle cx="440.6" cy="435.6" r="1.85"/><circle cx="442.5" cy="437.5" r="1.85"/><circle cx="444.4" cy="440.0" r="1.85"/><circle cx="446.2" cy="442.5" r="1.85"/><circle cx="448.8" cy="442.8" r="1.85"/><circle cx="450.6" cy="443.1" r="1.85"/><circle cx="452.5" cy="443.6" r="1.85"/><circle cx="453.8" cy="446.9" r="1.85"/><circle cx="455.6" cy="447.5" r="1.85"/><circle cx="457.2" cy="446.2" r="1.85"/><circle cx="458.5" cy="432.4" r="1.85"/><circle cx="459.4" cy="434.4" r="1.85"/><circle cx="460.6" cy="439.4" r="1.85"/><circle cx="461.9" cy="435.0" r="1.85"/><circle cx="463.8" cy="436.2" r="1.85"/><circle cx="465.0" cy="439.4" r="1.85"/><circle cx="466.9" cy="437.5" r="1.85"/><circle cx="468.8" cy="438.1" r="1.85"/><circle cx="470.0" cy="443.1" r="1.85"/><circle cx="471.2" cy="441.5" r="1.85"/><circle cx="470.6" cy="444.4" r="1.85"/><circle cx="475.6" cy="449.8" r="1.85"/><circle cx="482.2" cy="449.8" r="1.85"/><circle cx="494.0" cy="453.1" r="1.85"/></g>
<g stroke="#1a1a1a" stroke-width="1.1" fill="none"><path d="M65.90 496.20L65.70 572.20" /><path d="M65.70 565.00L516.00 563.00" /><path d="M97.88 564.86V572.06" /><path d="M130.72 564.71V571.91" /><path d="M162.72 564.57V571.77" /><path d="M194.40 564.43V571.63" /><path d="M226.32 564.29V571.49" /><path d="M258.32 564.14V571.34" /><path d="M290.26 564.00V571.20" /><path d="M321.98 563.86V571.06" /><path d="M354.32 563.72V570.92" /><path d="M386.08 563.58V570.78" /><path d="M418.46 563.43V570.63" /><path d="M451.78 563.29V570.49" /><path d="M484.22 563.14V570.34" /><path d="M65.90 496.20H73.30" /><path d="M65.83 519.40H73.23" /><path d="M65.77 541.90H73.17" /></g>
<g stroke="#2a2a2a" stroke-width="1.1" stroke-dasharray="1.4 1.5" fill="none"><path d="M67.20 530.70L495.30 529.00" /><path d="M67.20 553.50L495.30 551.80" /></g>
<g font-family='"Liberation Sans", Arial, Helvetica, sans-serif' font-size="12" fill="#111" stroke="#111" stroke-width="0.45"><text x="65.70" y="589.50" text-anchor="middle">0</text><text x="97.88" y="589.36" text-anchor="middle">30</text><text x="130.72" y="589.21" text-anchor="middle">60</text><text x="162.72" y="589.07" text-anchor="middle">90</text><text x="194.40" y="588.93" text-anchor="middle">120</text><text x="226.32" y="588.79" text-anchor="middle">150</text><text x="258.32" y="588.64" text-anchor="middle">180</text><text x="290.26" y="588.50" text-anchor="middle">210</text><text x="321.98" y="588.36" text-anchor="middle">240</text><text x="354.32" y="588.22" text-anchor="middle">270</text><text x="386.08" y="588.08" text-anchor="middle">300</text><text x="418.46" y="587.93" text-anchor="middle">330</text><text x="451.78" y="587.79" text-anchor="middle">360</text><text x="484.22" y="587.64" text-anchor="middle">390</text><text x="60.2" y="500.50" text-anchor="end">3</text><text x="60.2" y="523.70" text-anchor="end">2</text><text x="60.2" y="546.20" text-anchor="end">1</text><text x="60.2" y="569.30" text-anchor="end">0</text></g>
<g font-family='"Liberation Sans", Arial, Helvetica, sans-serif' font-size="13.8" fill="#111" stroke="#111" stroke-width="0.45"><text transform="translate(18.30 532.70) rotate(-90)" text-anchor="middle">vWF:Ag</text><text transform="translate(32.50 532.10) rotate(-90)" text-anchor="middle">(U/mL)</text></g>
<polyline fill="none" stroke="#111" stroke-width="1.1" stroke-linejoin="round" points="66.0,496.5 84.2,529.0 92.7,520.8 106.6,534.0 120.0,531.2 128.2,532.5 158.0,537.0 200.8,538.8 223.0,533.0 238.0,533.0 263.8,533.0 290.0,538.8 291.2,536.2 301.9,539.4 303.8,533.8 303.1,543.8 305.6,538.8 307.5,540.0 309.4,539.4 313.8,540.6 317.2,543.1 320.2,541.0 323.8,539.4 327.5,536.9 331.9,539.8 342.5,539.4 350.0,537.8 357.5,538.1 372.5,542.8 387.5,537.8 395.0,544.8 402.5,541.5 414.4,545.4 417.5,543.1 418.8,538.5 420.0,541.2 421.2,544.4 422.5,543.1 423.8,545.6 427.5,543.8 433.1,546.9 437.5,545.0 442.5,539.4 445.6,545.0 448.1,548.5 450.0,543.8 452.5,546.5 454.8,541.9 457.2,540.6 458.1,526.0 460.0,525.6 461.5,524.4 462.5,526.2 463.5,533.8 464.8,531.5 468.8,535.0 475.6,535.0 482.2,534.1 493.8,534.1"/>
<g fill="#111"><circle cx="66.0" cy="496.5" r="1.85"/><circle cx="84.2" cy="529.0" r="1.85"/><circle cx="92.7" cy="520.8" r="1.85"/><circle cx="106.6" cy="534.0" r="1.85"/><circle cx="120.0" cy="531.2" r="1.85"/><circle cx="128.2" cy="532.5" r="1.85"/><circle cx="158.0" cy="537.0" r="1.85"/><circle cx="200.8" cy="538.8" r="1.85"/><circle cx="223.0" cy="533.0" r="1.85"/><circle cx="238.0" cy="533.0" r="1.85"/><circle cx="263.8" cy="533.0" r="1.85"/><circle cx="290.0" cy="538.8" r="1.85"/><circle cx="291.2" cy="536.2" r="1.85"/><circle cx="301.9" cy="539.4" r="1.85"/><circle cx="303.8" cy="533.8" r="1.85"/><circle cx="303.1" cy="543.8" r="1.85"/><circle cx="305.6" cy="538.8" r="1.85"/><circle cx="307.5" cy="540.0" r="1.85"/><circle cx="309.4" cy="539.4" r="1.85"/><circle cx="313.8" cy="540.6" r="1.85"/><circle cx="317.2" cy="543.1" r="1.85"/><circle cx="320.2" cy="541.0" r="1.85"/><circle cx="323.8" cy="539.4" r="1.85"/><circle cx="327.5" cy="536.9" r="1.85"/><circle cx="331.9" cy="539.8" r="1.85"/><circle cx="342.5" cy="539.4" r="1.85"/><circle cx="350.0" cy="537.8" r="1.85"/><circle cx="357.5" cy="538.1" r="1.85"/><circle cx="372.5" cy="542.8" r="1.85"/><circle cx="387.5" cy="537.8" r="1.85"/><circle cx="395.0" cy="544.8" r="1.85"/><circle cx="402.5" cy="541.5" r="1.85"/><circle cx="414.4" cy="545.4" r="1.85"/><circle cx="417.5" cy="543.1" r="1.85"/><circle cx="418.8" cy="538.5" r="1.85"/><circle cx="420.0" cy="541.2" r="1.85"/><circle cx="421.2" cy="544.4" r="1.85"/><circle cx="422.5" cy="543.1" r="1.85"/><circle cx="423.8" cy="545.6" r="1.85"/><circle cx="427.5" cy="543.8" r="1.85"/><circle cx="433.1" cy="546.9" r="1.85"/><circle cx="437.5" cy="545.0" r="1.85"/><circle cx="442.5" cy="539.4" r="1.85"/><circle cx="445.6" cy="545.0" r="1.85"/><circle cx="448.1" cy="548.5" r="1.85"/><circle cx="450.0" cy="543.8" r="1.85"/><circle cx="452.5" cy="546.5" r="1.85"/><circle cx="454.8" cy="541.9" r="1.85"/><circle cx="457.2" cy="540.6" r="1.85"/><circle cx="458.1" cy="526.0" r="1.85"/><circle cx="460.0" cy="525.6" r="1.85"/><circle cx="461.5" cy="524.4" r="1.85"/><circle cx="462.5" cy="526.2" r="1.85"/><circle cx="463.5" cy="533.8" r="1.85"/><circle cx="464.8" cy="531.5" r="1.85"/><circle cx="468.8" cy="535.0" r="1.85"/><circle cx="475.6" cy="535.0" r="1.85"/><circle cx="482.2" cy="534.1" r="1.85"/><circle cx="493.8" cy="534.1" r="1.85"/></g>
<g stroke="#1a1a1a" stroke-width="1.1" fill="none"><path d="M65.30 607.90L65.00 684.90" /><path d="M65.00 677.70L516.00 675.80" /><path d="M97.60 677.56V684.76" /><path d="M130.40 677.42V684.62" /><path d="M162.40 677.29V684.49" /><path d="M194.00 677.16V684.36" /><path d="M226.00 677.02V684.22" /><path d="M258.00 676.89V684.09" /><path d="M290.00 676.75V683.95" /><path d="M321.60 676.62V683.82" /><path d="M354.00 676.48V683.68" /><path d="M385.60 676.35V683.55" /><path d="M418.00 676.21V683.41" /><path d="M451.40 676.07V683.27" /><path d="M483.80 675.94V683.14" /><path d="M65.30 607.90H72.70" /><path d="M65.15 642.10H72.55" /></g>
<g stroke="#2a2a2a" stroke-width="1.1" stroke-dasharray="1.4 1.5" fill="none"><path d="M66.50 631.50L495.30 629.60" /><path d="M66.50 664.10L495.30 662.30" /></g>
<g font-family='"Liberation Sans", Arial, Helvetica, sans-serif' font-size="12" fill="#111" stroke="#111" stroke-width="0.45"><text x="65.00" y="701.90" text-anchor="middle">0</text><text x="97.60" y="701.76" text-anchor="middle">30</text><text x="130.40" y="701.62" text-anchor="middle">60</text><text x="162.40" y="701.49" text-anchor="middle">90</text><text x="194.00" y="701.36" text-anchor="middle">120</text><text x="226.00" y="701.22" text-anchor="middle">150</text><text x="258.00" y="701.09" text-anchor="middle">180</text><text x="290.00" y="700.95" text-anchor="middle">210</text><text x="321.60" y="700.82" text-anchor="middle">240</text><text x="354.00" y="700.68" text-anchor="middle">270</text><text x="385.60" y="700.55" text-anchor="middle">300</text><text x="418.00" y="700.41" text-anchor="middle">330</text><text x="451.40" y="700.27" text-anchor="middle">360</text><text x="483.80" y="700.14" text-anchor="middle">390</text><text x="60.2" y="612.20" text-anchor="end">100</text><text x="60.2" y="646.40" text-anchor="end">50</text><text x="60.2" y="681.80" text-anchor="end">0</text></g>
<g font-family='"Liberation Sans", Arial, Helvetica, sans-serif' font-size="13.8" fill="#111" stroke="#111" stroke-width="0.45"><text transform="translate(12.80 643.20) rotate(-90)" text-anchor="middle">Thrombomodulin</text><text transform="translate(28.50 648.00) rotate(-90)" text-anchor="middle">(ng/mL)</text></g>
<polyline fill="none" stroke="#111" stroke-width="1.1" stroke-linejoin="round" points="66.4,625.7 83.4,654.7 92.1,653.4 106.4,659.1 119.5,658.5 128.0,656.0 157.5,653.5 200.8,650.8 222.5,650.6 237.5,646.8 263.8,652.5 290.6,650.0 301.9,649.4 303.1,646.2 303.8,651.5 305.6,652.1 307.5,652.5 309.0,654.0 310.6,655.0 313.8,656.0 316.9,657.5 319.8,658.1 323.1,654.4 327.2,655.6 331.5,650.6 342.2,656.0 349.8,652.8 356.9,650.6 371.9,652.2 386.9,647.8 394.8,653.5 402.2,651.9 414.0,653.5 416.9,655.0 419.4,651.0 421.2,653.8 423.8,655.2 427.2,649.8 432.5,647.5 437.2,649.0 442.5,648.1 445.6,651.0 447.5,656.2 450.0,656.0 453.1,655.0 456.2,654.0 459.0,653.6 461.2,653.8 463.1,658.1 464.8,658.6 468.3,658.1 475.2,654.4 481.5,657.5 493.1,657.5"/>
<g fill="#111"><circle cx="66.4" cy="625.7" r="1.85"/><circle cx="83.4" cy="654.7" r="1.85"/><circle cx="92.1" cy="653.4" r="1.85"/><circle cx="106.4" cy="659.1" r="1.85"/><circle cx="119.5" cy="658.5" r="1.85"/><circle cx="128.0" cy="656.0" r="1.85"/><circle cx="157.5" cy="653.5" r="1.85"/><circle cx="200.8" cy="650.8" r="1.85"/><circle cx="222.5" cy="650.6" r="1.85"/><circle cx="237.5" cy="646.8" r="1.85"/><circle cx="263.8" cy="652.5" r="1.85"/><circle cx="290.6" cy="650.0" r="1.85"/><circle cx="301.9" cy="649.4" r="1.85"/><circle cx="303.1" cy="646.2" r="1.85"/><circle cx="303.8" cy="651.5" r="1.85"/><circle cx="305.6" cy="652.1" r="1.85"/><circle cx="307.5" cy="652.5" r="1.85"/><circle cx="309.0" cy="654.0" r="1.85"/><circle cx="310.6" cy="655.0" r="1.85"/><circle cx="313.8" cy="656.0" r="1.85"/><circle cx="316.9" cy="657.5" r="1.85"/><circle cx="319.8" cy="658.1" r="1.85"/><circle cx="323.1" cy="654.4" r="1.85"/><circle cx="327.2" cy="655.6" r="1.85"/><circle cx="331.5" cy="650.6" r="1.85"/><circle cx="342.2" cy="656.0" r="1.85"/><circle cx="349.8" cy="652.8" r="1.85"/><circle cx="356.9" cy="650.6" r="1.85"/><circle cx="371.9" cy="652.2" r="1.85"/><circle cx="386.9" cy="647.8" r="1.85"/><circle cx="394.8" cy="653.5" r="1.85"/><circle cx="402.2" cy="651.9" r="1.85"/><circle cx="414.0" cy="653.5" r="1.85"/><circle cx="416.9" cy="655.0" r="1.85"/><circle cx="419.4" cy="651.0" r="1.85"/><circle cx="421.2" cy="653.8" r="1.85"/><circle cx="423.8" cy="655.2" r="1.85"/><circle cx="427.2" cy="649.8" r="1.85"/><circle cx="432.5" cy="647.5" r="1.85"/><circle cx="437.2" cy="649.0" r="1.85"/><circle cx="442.5" cy="648.1" r="1.85"/><circle cx="445.6" cy="651.0" r="1.85"/><circle cx="447.5" cy="656.2" r="1.85"/><circle cx="450.0" cy="656.0" r="1.85"/><circle cx="453.1" cy="655.0" r="1.85"/><circle cx="456.2" cy="654.0" r="1.85"/><circle cx="459.0" cy="653.6" r="1.85"/><circle cx="461.2" cy="653.8" r="1.85"/><circle cx="463.1" cy="658.1" r="1.85"/><circle cx="464.8" cy="658.6" r="1.85"/><circle cx="468.3" cy="658.1" r="1.85"/><circle cx="475.2" cy="654.4" r="1.85"/><circle cx="481.5" cy="657.5" r="1.85"/><circle cx="493.1" cy="657.5" r="1.85"/></g>
<text x="267.5" y="725.6" text-anchor="middle" font-family='"Liberation Sans", Arial, Helvetica, sans-serif' font-size="13.8" fill="#111" stroke="#111" stroke-width="0.45">Days</text>
</g>
</svg></body></html>
